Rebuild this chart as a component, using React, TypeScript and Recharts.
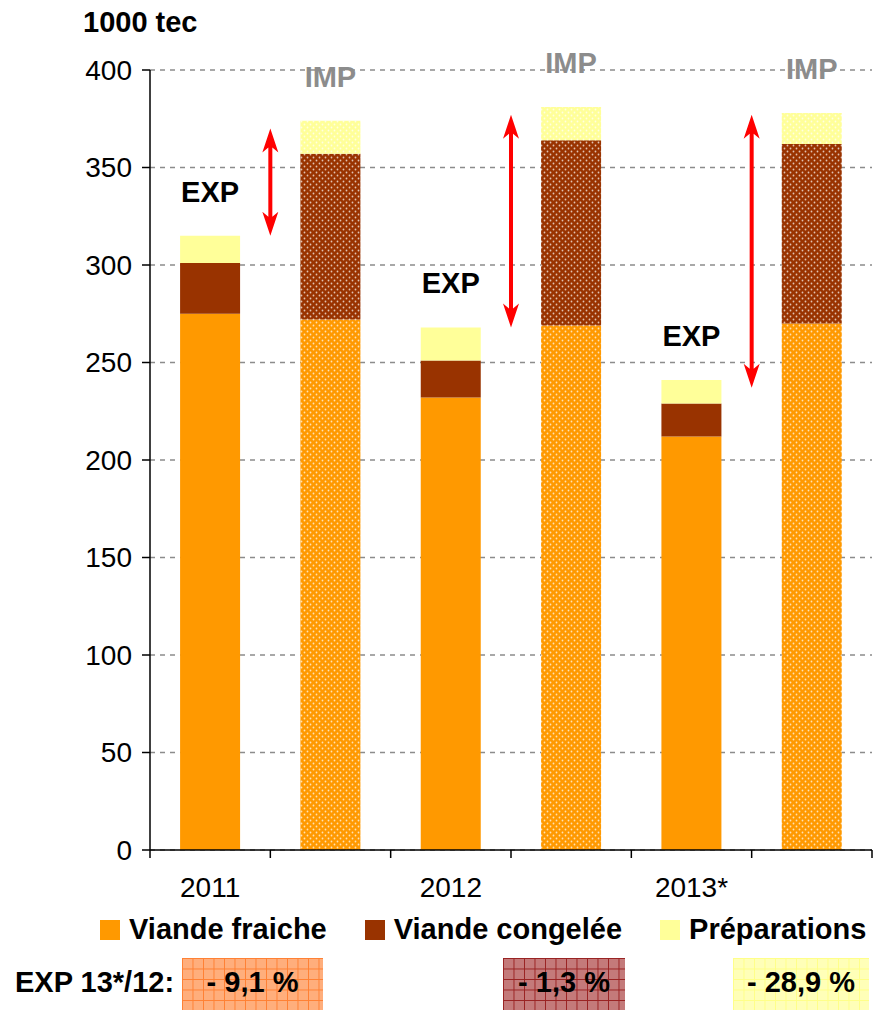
import React from "react";
import {
  BarChart,
  Bar,
  XAxis,
  YAxis,
  CartesianGrid,
  Cell,
  LabelList,
  ReferenceLine,
} from "recharts";

// categories: one EXP and one IMP bar per year
const years = ["2011", "2011", "2012", "2012", "2013*", "2013*"];
const flows = ["EXP", "IMP", "EXP", "IMP", "EXP", "IMP"];

// 1000 tec
const viandeFraiche = [275, 272, 232, 269, 212, 270];
const viandeCongelee = [26, 85, 19, 95, 17, 92];
const preparations = [14, 17, 17, 17, 12, 16];

const yTicks = [0, 50, 100, 150, 200, 250, 300, 350, 400];

// red arrows EXP -> IMP gap (top, bottom)
const arrowYears = ["2011", "2012", "2013*"];
const arrowTop = [370, 377, 377];
const arrowBottom = [315, 268, 237];

const seriesNames = ["Viande fraiche", "Viande congelée", "Préparations"];
const seriesKeys = ["fraiche", "congelee", "prep"];
const seriesColors = ["#FF9900", "#993300", "#FFFF99"];

const evolutionLabels = ["- 9,1 %", "- 1,3 %", "- 28,9 %"];

const data = years.map((y, i) => ({
  key: `${flows[i]} ${y}`,
  year: y,
  flow: flows[i],
  fraiche: viandeFraiche[i],
  congelee: viandeCongelee[i],
  prep: preparations[i],
}));

const FONT = '"Liberation Sans", Arial, sans-serif';
const W = 881;
const H = 1010;
const X_AXIS_H = 30;
const M = { top: 70, right: 9, bottom: 160 - X_AXIS_H, left: 0 };
const Y_AXIS_W = 150;
const STEP = (W - M.left - M.right - Y_AXIS_W) / years.length;

const XTick = (props: any) => {
  const { x, y, payload, index } = props;
  const d = data.find((r) => r.key === payload.value);
  const last = index === data.length - 1;
  return (
    <g>
      <line x1={x - STEP / 2} x2={x - STEP / 2} y1={y - 8} y2={y} stroke="#000" strokeWidth={1.5} />
      {last && (
        <line x1={x + STEP / 2} x2={x + STEP / 2} y1={y - 8} y2={y} stroke="#000" strokeWidth={1.5} />
      )}
      {d && d.flow === "EXP" && (
        <text x={x} y={y + 39} textAnchor="middle" fontSize={28} fill="#000" fontFamily={FONT}>
          {d.year}
        </text>
      )}
    </g>
  );
};

const RedArrow = (props: any) => {
  const { x1, y1, y2 } = props;
  const x = x1;
  const t = Math.min(y1, y2);
  const b = Math.max(y1, y2);
  const hw = 8;
  const hl = 24;
  const sw = 2;
  const n = 19;
  const d = `M${x},${t} L${x + hw},${t + hl} L${x + sw},${t + n} L${x + sw},${b - n} L${x + hw},${b - hl} L${x},${b} L${x - hw},${b - hl} L${x - sw},${b - n} L${x - sw},${t + n} L${x - hw},${t + hl} Z`;
  return <path d={d} fill="#FF0000" />;
};

const FlowLabel = (props: any) => {
  const { x, y, width, value } = props;
  return (
    <text
      x={x + width / 2}
      y={y - 34}
      textAnchor="middle"
      fontSize={29}
      fontWeight="bold"
      fontFamily={FONT}
      fill={value === "IMP" ? "#8C8C8C" : "#000"}
    >
      {value}
    </text>
  );
};

const boxStyles = [
  { bg: "#FFAE7C", line: "#FF8033", left: 182, width: 141 },
  { bg: "#C47A7A", line: "#992222", left: 503, width: 122 },
  { bg: "#FFFFB8", line: "#FFFF88", left: 733, width: 136 },
];

export default function App() {
  return (
    <div style={{ position: "absolute", left: 0, top: 0, width: W, height: H, fontFamily: FONT, background: "#fff", overflow: "hidden" }}>
      <div style={{ position: "absolute", left: 83, top: 6, fontSize: 29, fontWeight: "bold", color: "#000" }}>
        1000 tec
      </div>
      <BarChart width={W} height={H} data={data} margin={M} barCategoryGap="25%">
        <defs>
          {seriesKeys.map((k, i) => (
            <pattern key={k} id={`dots-${k}`} width={6} height={6} patternUnits="userSpaceOnUse">
              <rect width={6} height={6} fill={seriesColors[i]} />
              <circle cx={1.5} cy={1.5} r={0.9} fill="#fff" fillOpacity={0.7} />
              <circle cx={4.5} cy={4.5} r={0.9} fill="#fff" fillOpacity={0.7} />
            </pattern>
          ))}
        </defs>
        <CartesianGrid vertical={false} stroke="#8C8C8C" strokeDasharray="5 5" strokeWidth={1.5} />
        <XAxis
          dataKey="key"
          height={X_AXIS_H}
          axisLine={{ stroke: "#000", strokeWidth: 1.5 }}
          tickLine={false}
          tickSize={8}
          tickMargin={0}
          interval={0}
          tick={<XTick />}
        />
        <YAxis
          width={Y_AXIS_W}
          domain={[0, 400]}
          ticks={yTicks}
          interval={0}
          axisLine={{ stroke: "#000", strokeWidth: 1.5 }}
          tickLine={{ stroke: "#000", strokeWidth: 1.5 }}
          tickSize={8}
          tickMargin={10}
          tick={{ fill: "#000", fontSize: 28, fontFamily: FONT }}
        />
        {seriesKeys.map((k, i) => (
          <Bar key={k} dataKey={k} stackId="a" fill={seriesColors[i]} isAnimationActive={false}>
            {data.map((r) => (
              <Cell key={r.key} fill={r.flow === "IMP" ? `url(#dots-${k})` : seriesColors[i]} />
            ))}
            {i === seriesKeys.length - 1 && <LabelList dataKey="flow" content={<FlowLabel />} />}
          </Bar>
        ))}
        {arrowYears.map((y, i) => (
          <ReferenceLine
            key={y}
            position="end"
            segment={[
              { x: `EXP ${y}`, y: arrowTop[i] },
              { x: `EXP ${y}`, y: arrowBottom[i] },
            ]}
            shape={<RedArrow />}
          />
        ))}
      </BarChart>
      <div style={{ position: "absolute", left: 100, top: 913, display: "flex", alignItems: "center", gap: 38, fontSize: 29, fontWeight: "bold", color: "#000" }}>
        {seriesNames.map((n, i) => (
          <div key={n} style={{ display: "flex", alignItems: "center", gap: 9 }}>
            <div style={{ width: 20, height: 20, background: seriesColors[i] }} />
            <span>{n}</span>
          </div>
        ))}
      </div>
      <div style={{ position: "absolute", left: 15, top: 966, fontSize: 29, fontWeight: "bold", color: "#000" }}>
        EXP 13*/12:
      </div>
      {evolutionLabels.map((l, i) => (
        <div
          key={l}
          style={{
            position: "absolute",
            left: boxStyles[i].left,
            top: 958,
            width: boxStyles[i].width,
            height: 60,
            backgroundColor: boxStyles[i].bg,
            backgroundImage: `linear-gradient(${boxStyles[i].line} 1px, transparent 1px), linear-gradient(90deg, ${boxStyles[i].line} 1px, transparent 1px)`,
            backgroundSize: "10.5px 10.5px",
            fontSize: 29,
            fontWeight: "bold",
            color: "#000",
            textAlign: "center",
            paddingTop: 8,
            boxSizing: "border-box",
          }}
        >
          {l}
        </div>
      ))}
    </div>
  );
}
